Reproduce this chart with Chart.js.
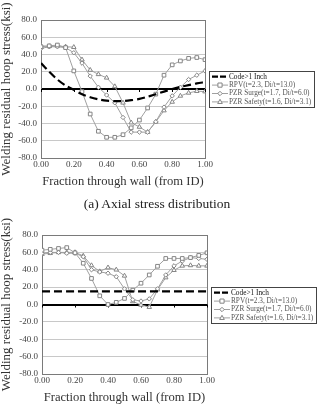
<!DOCTYPE html>
<html>
<head>
<meta charset="utf-8">
<script src="https://cdn.jsdelivr.net/npm/chart.js@4.4.1/dist/chart.umd.min.js"></script>
<style>
  html, body { margin: 0; padding: 0; background: #fff; }
  #wrap { position: relative; width: 322px; height: 408px; overflow: hidden; }
  canvas { position: absolute; left: 0; }
  #axial { top: 0; }
  #hoop { top: 210px; }
  .caption { position: absolute; top: 196px; left: 0; width: 314px; text-align: center;
             font: 13.5px "Liberation Serif", serif; color: #222; }
</style>
</head>
<body>
<div id="wrap">
  <canvas id="axial" width="322" height="200"></canvas>
  <div class="caption">(a) Axial stress distribution</div>
  <canvas id="hoop" width="322" height="198"></canvas>
</div>
<script>
// fraction through wall (from ID)
const fractions = [0.00, 0.05, 0.10, 0.15, 0.20, 0.25, 0.30, 0.35, 0.40, 0.45, 0.50,
                   0.55, 0.60, 0.65, 0.70, 0.75, 0.80, 0.85, 0.90, 0.95, 1.00];

const seriesNames = ["Code>1 Inch", "RPV(t=2.3, Di/t=13.0)",
                     "PZR Surge(t=1.7, Di/t=6.0)", "PZR Safety(t=1.6, Di/t=3.1)"];

// (a) axial stress, ksi
const axialCode   = [30, 20, 11, 4, -1, -6, -9.5, -12, -13.5, -14, -14, -13, -11.5, -9, -6, -3, 0, 2.5, 4.5, 6.5, 8];
const axialRPV    = [49, 50, 51, 48, 21, -3, -29, -49, -56, -56, -53, -45, -36, -22, -6, 16, 28, 32.5, 35.5, 36.5, 34];
const axialSurge  = [47, 49, 49, 48, 42, 30, 15, 2, -7, -16, -33, -50, -50, -50, -38, -21, -8, 2, 11, 16, 21];
const axialSafety = [50, 49.5, 50, 49, 48.5, 34, 22, 17, 13, 3, -16, -39, -44, -50, -38, -25, -15, -8, -4.5, -2.5, -3];

// (b) hoop stress, ksi
const hoopCode   = [15, 15, 15, 15, 15, 15, 15, 15, 15, 15, 15, 15, 15, 15, 15, 15, 15, 15, 15, 15, 15];
const hoopRPV    = [62.5, 63.5, 64.5, 65.5, 59.5, 47.5, 30, 10, 0, 2.5, 7, 16.5, 24.5, 34, 44, 53, 53, 53, 54, 56.5, 59.5];
const hoopSurge  = [59, 60, 60, 59, 59, 55, 40, 37.5, 36, 32, 18, 5.5, 4, 6.5, 18, 34, 44.5, 50, 54, 53, 52];
const hoopSafety = [58, 59, 60, 60, 60, 56, 45, 38, 42.5, 40, 33, 3.5, -0.5, -3, 17, 31, 39.5, 44.5, 45, 44.5, 44.5];

const yMin = -80, yMax = 80, yStep = 20;
const xMin = 0, xMax = 1, xStep = 0.2;

const serif = '"Liberation Serif", serif';
const lineGray = '#a0a0a0';
const markGray = '#858585';

function pts(vals) {
  return vals.map((v, i) => ({ x: fractions[i], y: v }));
}

function makeDatasets(code, rpv, surge, safety) {
  return [
    { label: seriesNames[0], data: pts(code), borderColor: '#000', borderWidth: 2.2,
      borderDash: [8, 4], pointRadius: 0, tension: 0.3, fill: false },
    { label: seriesNames[1], data: pts(rpv), borderColor: lineGray, borderWidth: 1,
      pointStyle: 'rect', pointRadius: 2.6, pointBackgroundColor: '#fff',
      pointBorderColor: markGray, pointBorderWidth: 1, tension: 0 },
    { label: seriesNames[2], data: pts(surge), borderColor: lineGray, borderWidth: 1,
      pointStyle: 'rectRot', pointRadius: 2.2, pointBackgroundColor: '#fff',
      pointBorderColor: markGray, pointBorderWidth: 1, tension: 0 },
    { label: seriesNames[3], data: pts(safety), borderColor: lineGray, borderWidth: 1,
      pointStyle: 'triangle', pointRadius: 2.6, pointBackgroundColor: '#fff',
      pointBorderColor: markGray, pointBorderWidth: 1, tension: 0 }
  ];
}

function drawMarker(ctx, style, r, x, y) {
  ctx.beginPath();
  if (style === 'rect') {
    ctx.rect(x - r * 0.8, y - r * 0.8, r * 1.6, r * 1.6);
  } else if (style === 'rectRot') {
    ctx.moveTo(x, y - r); ctx.lineTo(x + r, y); ctx.lineTo(x, y + r); ctx.lineTo(x - r, y);
    ctx.closePath();
  } else if (style === 'triangle') {
    ctx.moveTo(x, y - r); ctx.lineTo(x + r * 0.9, y + r * 0.6); ctx.lineTo(x - r * 0.9, y + r * 0.6);
    ctx.closePath();
  }
  ctx.fill();
  ctx.stroke();
}

// plot frame, zero-line ticks and the boxed legend at the right
const excelLook = {
  id: 'excelLook',
  beforeDatasetsDraw(chart) {
    const { ctx, chartArea: a, scales } = chart;
    ctx.save();
    ctx.strokeStyle = '#7a7a7a';
    ctx.lineWidth = 1;
    ctx.strokeRect(Math.round(a.left) + 0.5, Math.round(a.top) + 0.5,
                   Math.round(a.right - a.left), Math.round(a.bottom - a.top));
    const y0 = scales.y.getPixelForValue(0);
    ctx.strokeStyle = '#000';
    scales.x.ticks.forEach(t => {
      const x = Math.round(scales.x.getPixelForValue(t.value)) + 0.5;
      ctx.beginPath(); ctx.moveTo(x, y0); ctx.lineTo(x, y0 + 3); ctx.stroke();
    });
    ctx.restore();
  },
  afterDraw(chart) {
    const { ctx, chartArea: a } = chart;
    const sets = chart.data.datasets;
    const rowH = 8.4, w = 105, h = Math.round(sets.length * rowH + 2);
    const left = Math.round(a.right) + 4;
    const top = Math.round((a.top + a.bottom) / 2 - h / 2);
    ctx.save();
    ctx.fillStyle = '#fff';
    ctx.fillRect(left, top, w, h);
    ctx.strokeStyle = '#444';
    ctx.lineWidth = 1;
    ctx.strokeRect(left + 0.5, top + 0.5, w, h);
    ctx.font = '7.3px ' + serif;
    ctx.textBaseline = 'middle';
    sets.forEach((ds, i) => {
      const y = top + 1.5 + rowH * (i + 0.5);
      ctx.strokeStyle = ds.borderColor;
      ctx.lineWidth = ds.borderWidth;
      ctx.setLineDash(ds.borderDash ? [6, 2] : []);
      ctx.beginPath(); ctx.moveTo(left + 3, y); ctx.lineTo(left + 19, y); ctx.stroke();
      ctx.setLineDash([]);
      if (ds.pointRadius > 0) {
        ctx.fillStyle = ds.pointBackgroundColor;
        ctx.strokeStyle = ds.pointBorderColor;
        ctx.lineWidth = 1;
        drawMarker(ctx, ds.pointStyle, ds.pointRadius, left + 11, y);
      }
      ctx.fillStyle = i === 0 ? '#111' : '#555';
      ctx.fillText(ds.label, left + 20, y);
    });
    ctx.restore();
  }
};

function makeChart(id, datasets, plotLeft, plotTop, plotRight, bottomPad) {
  return new Chart(document.getElementById(id), {
    type: 'line',
    data: { datasets: datasets },
    options: {
      responsive: false,
      animation: false,
      layout: { padding: { left: 0, top: plotTop, right: 322 - plotRight, bottom: bottomPad } },
      plugins: { legend: { display: false }, tooltip: { enabled: false } },
      scales: {
        x: {
          type: 'linear', min: xMin, max: xMax,
          afterFit: s => { s.height = 34; },
          ticks: { stepSize: xStep, color: '#444', font: { family: serif, size: 9 }, padding: 1,
                   maxRotation: 0, callback: v => Number(v).toFixed(2) },
          grid: { display: false, drawTicks: false },
          border: { display: false },
          title: { display: true, text: 'Fraction through wall (from ID)', color: '#333',
                   font: { family: serif, size: 12.6 }, padding: { top: 0, bottom: 3 } }
        },
        y: {
          min: yMin, max: yMax,
          afterFit: s => { s.width = plotLeft; },
          ticks: { stepSize: yStep, color: '#444', font: { family: serif, size: 9 }, padding: 4,
                   callback: v => Number(v).toFixed(1) },
          grid: {
            drawTicks: false,
            color: c => (c.tick && c.tick.value === 0) ? '#000' : '#c8c8c8',
            lineWidth: c => (c.tick && c.tick.value === 0) ? 2 : 1
          },
          border: { display: false },
          title: { display: true, text: 'Welding residual hoop stress(ksi)', color: '#333',
                   font: { family: serif, size: 13, lineHeight: 1 }, padding: 0 }
        }
      }
    },
    plugins: [excelLook]
  });
}

makeChart('axial', makeDatasets(axialCode, axialRPV, axialSurge, axialSafety), 41, 20, 205, 8);
makeChart('hoop', makeDatasets(hoopCode, hoopRPV, hoopSurge, hoopSafety), 42, 25, 207, 0);
</script>
</body>
</html>
